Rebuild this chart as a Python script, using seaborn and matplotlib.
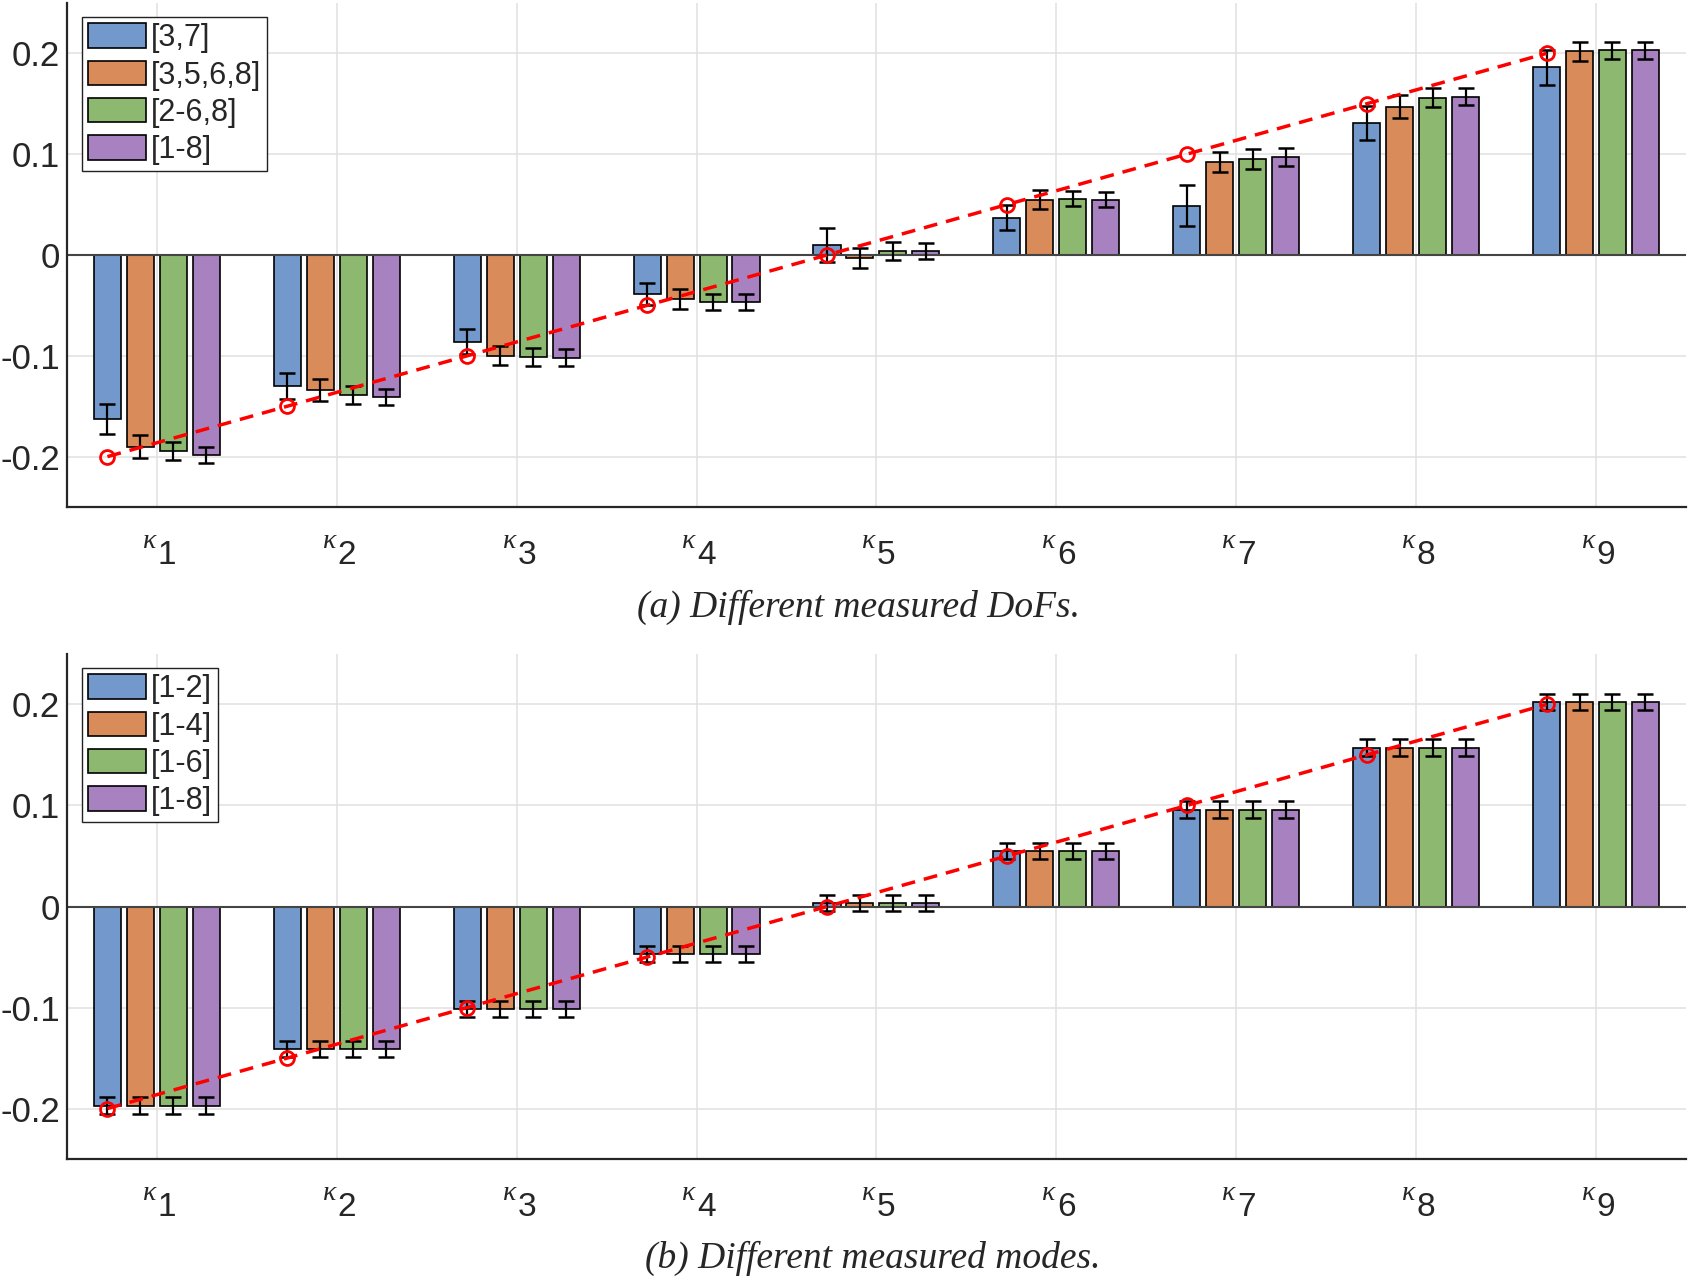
import numpy as np
import pandas as pd
import matplotlib
matplotlib.use("Agg")
import matplotlib.pyplot as plt
import seaborn as sns

# kappa parameters
kappas = ["k1", "k2", "k3", "k4", "k5", "k6", "k7", "k8", "k9"]
kappa_idx = ["1", "2", "3", "4", "5", "6", "7", "8", "9"]
true_vals = [-0.2, -0.15, -0.1, -0.05, 0.0, 0.05, 0.1, 0.15, 0.2]

# (a) different measured DoFs
dof_names = ["[3,7]", "[3,5,6,8]", "[2-6,8]", "[1-8]"]
dof_mean = {
    "[3,7]":     [-0.163, -0.130, -0.086, -0.039, 0.010, 0.037, 0.049, 0.131, 0.186],
    "[3,5,6,8]": [-0.190, -0.134, -0.100, -0.044, -0.003, 0.055, 0.092, 0.147, 0.202],
    "[2-6,8]":   [-0.194, -0.139, -0.101, -0.047, 0.004, 0.056, 0.095, 0.156, 0.203],
    "[1-8]":     [-0.198, -0.141, -0.102, -0.047, 0.004, 0.055, 0.097, 0.157, 0.203],
}
dof_err = {
    "[3,7]":     [0.015, 0.013, 0.0125, 0.011, 0.0165, 0.0125, 0.020, 0.017, 0.0175],
    "[3,5,6,8]": [0.011, 0.011, 0.0095, 0.010, 0.0095, 0.009, 0.010, 0.0115, 0.0095],
    "[2-6,8]":   [0.009, 0.009, 0.0087, 0.008, 0.0085, 0.0077, 0.010, 0.0095, 0.0087],
    "[1-8]":     [0.008, 0.008, 0.0085, 0.008, 0.008, 0.0078, 0.009, 0.0085, 0.0083],
}

# (b) different measured modes
mode_names = ["[1-2]", "[1-4]", "[1-6]", "[1-8]"]
mode_mean = {
    "[1-2]": [-0.197, -0.141, -0.1015, -0.047, 0.0035, 0.055, 0.096, 0.157, 0.2025],
    "[1-4]": [-0.197, -0.141, -0.1015, -0.047, 0.0035, 0.055, 0.096, 0.157, 0.2025],
    "[1-6]": [-0.197, -0.141, -0.1015, -0.047, 0.0035, 0.055, 0.096, 0.157, 0.2025],
    "[1-8]": [-0.197, -0.141, -0.1015, -0.047, 0.0035, 0.055, 0.096, 0.157, 0.2025],
}
mode_err = {
    "[1-2]": [0.008, 0.0083, 0.0083, 0.008, 0.008, 0.0078, 0.0085, 0.0085, 0.0083],
    "[1-4]": [0.008, 0.0083, 0.0083, 0.008, 0.008, 0.0078, 0.0085, 0.0085, 0.0083],
    "[1-6]": [0.008, 0.0083, 0.0083, 0.008, 0.008, 0.0078, 0.0085, 0.0085, 0.0083],
    "[1-8]": [0.008, 0.0083, 0.0083, 0.008, 0.008, 0.0078, 0.0085, 0.0085, 0.0083],
}

colors = ["#7399CC", "#D98B5A", "#8DB870", "#A882C0"]

sns.set_style("white")
plt.rcParams["font.family"] = ["Liberation Sans", "DejaVu Sans"]
plt.rcParams["axes.unicode_minus"] = False


def draw_panel(ax, names, means, errs, caption, fig, cap_x, cap_y):
    rows = []
    for n in names:
        for k, v in zip(kappas, means[n]):
            rows.append({"kappa": k, "value": v, "set": n})
    df = pd.DataFrame(rows)

    sns.barplot(data=df, x="kappa", y="value", hue="set", hue_order=names,
                order=kappas, palette=colors, width=0.733, gap=0.18,
                edgecolor="black", linewidth=1.2, saturation=1,
                errorbar=None, ax=ax, zorder=2)

    # error bars at the bar centres
    for cont, n in zip(ax.containers, names):
        xs = [p.get_x() + p.get_width() / 2 for p in cont.patches]
        ax.errorbar(xs, means[n], yerr=errs[n], fmt="none", ecolor="black",
                    elinewidth=1.6, capsize=5.5, capthick=1.8, zorder=3)

    # true values along the first bar of each group
    first = ax.containers[0].patches
    xs_true = [p.get_x() + p.get_width() / 2 for p in first]
    ax.plot(xs_true, true_vals, linestyle="--", color="red", linewidth=2.5,
            dashes=(4, 2.6), marker="o", markersize=10, markerfacecolor="none",
            markeredgecolor="red", markeredgewidth=2, zorder=4)

    ax.axhline(0, color="#444444", linewidth=1.5, zorder=2.5)
    ax.set_xlim(-0.5, 8.5)
    ax.set_ylim(-0.25, 0.25)
    ax.set_yticks([-0.2, -0.1, 0, 0.1, 0.2])
    ax.set_yticklabels(["-0.2", "-0.1", "0", "0.1", "0.2"])
    ax.set_xticks(range(len(kappas)))
    ax.set_xticklabels([])
    ax.set_xlabel("")
    ax.set_ylabel("")
    ax.grid(True, color="#E0E0E0", linewidth=1.1, zorder=0)
    ax.set_axisbelow(True)
    for s in ["top", "right"]:
        ax.spines[s].set_visible(False)
    for s in ["left", "bottom"]:
        ax.spines[s].set_color("#262626")
        ax.spines[s].set_linewidth(1.6)
    ax.tick_params(axis="y", direction="in", length=14, width=1.2,
                   color="#262626", labelsize=25, pad=5)
    ax.tick_params(axis="x", direction="in", length=14, width=1.2,
                   color="#262626")

    # kappa tick labels: small raised kappa followed by a lowered index
    for i, d in enumerate(kappa_idx):
        ax.annotate("\u03ba", xy=(i, 0), xycoords=("data", "axes fraction"),
                    xytext=(-0.5, -25), textcoords="offset points",
                    ha="right", va="center", fontsize=20, style="italic",
                    family=["Liberation Serif", "DejaVu Serif"])
        ax.annotate(d, xy=(i, 0), xycoords=("data", "axes fraction"),
                    xytext=(0.5, -35), textcoords="offset points",
                    ha="left", va="center", fontsize=24)

    handles, labels = ax.get_legend_handles_labels()
    ax.legend(handles, labels, loc="upper left", bbox_to_anchor=(0.0095, 0.972),
              fontsize=22, frameon=True, fancybox=False, framealpha=1,
              edgecolor="#222222", handlelength=1.9, handleheight=0.85,
              handletextpad=0.15, borderpad=0.2, labelspacing=0.24,
              borderaxespad=0)
    ax.get_legend().get_frame().set_linewidth(1.0)

    fig.text(cap_x, cap_y, caption, ha="center", va="center", fontsize=27,
             style="italic", family=["Liberation Serif", "DejaVu Serif"])


fig = plt.figure(figsize=(16.9, 12.82), dpi=100)
ax1 = fig.add_axes([0.0396, 0.6045, 0.958, 0.3932])
ax2 = fig.add_axes([0.0396, 0.0959, 0.958, 0.3940])

draw_panel(ax1, dof_names, dof_mean, dof_err,
           "(a) Different measured DoFs.", fig, 0.508, 0.5265)
draw_panel(ax2, mode_names, mode_mean, mode_err,
           "(b) Different measured modes.", fig, 0.5166, 0.0185)

fig.savefig("out.png", dpi=100)
